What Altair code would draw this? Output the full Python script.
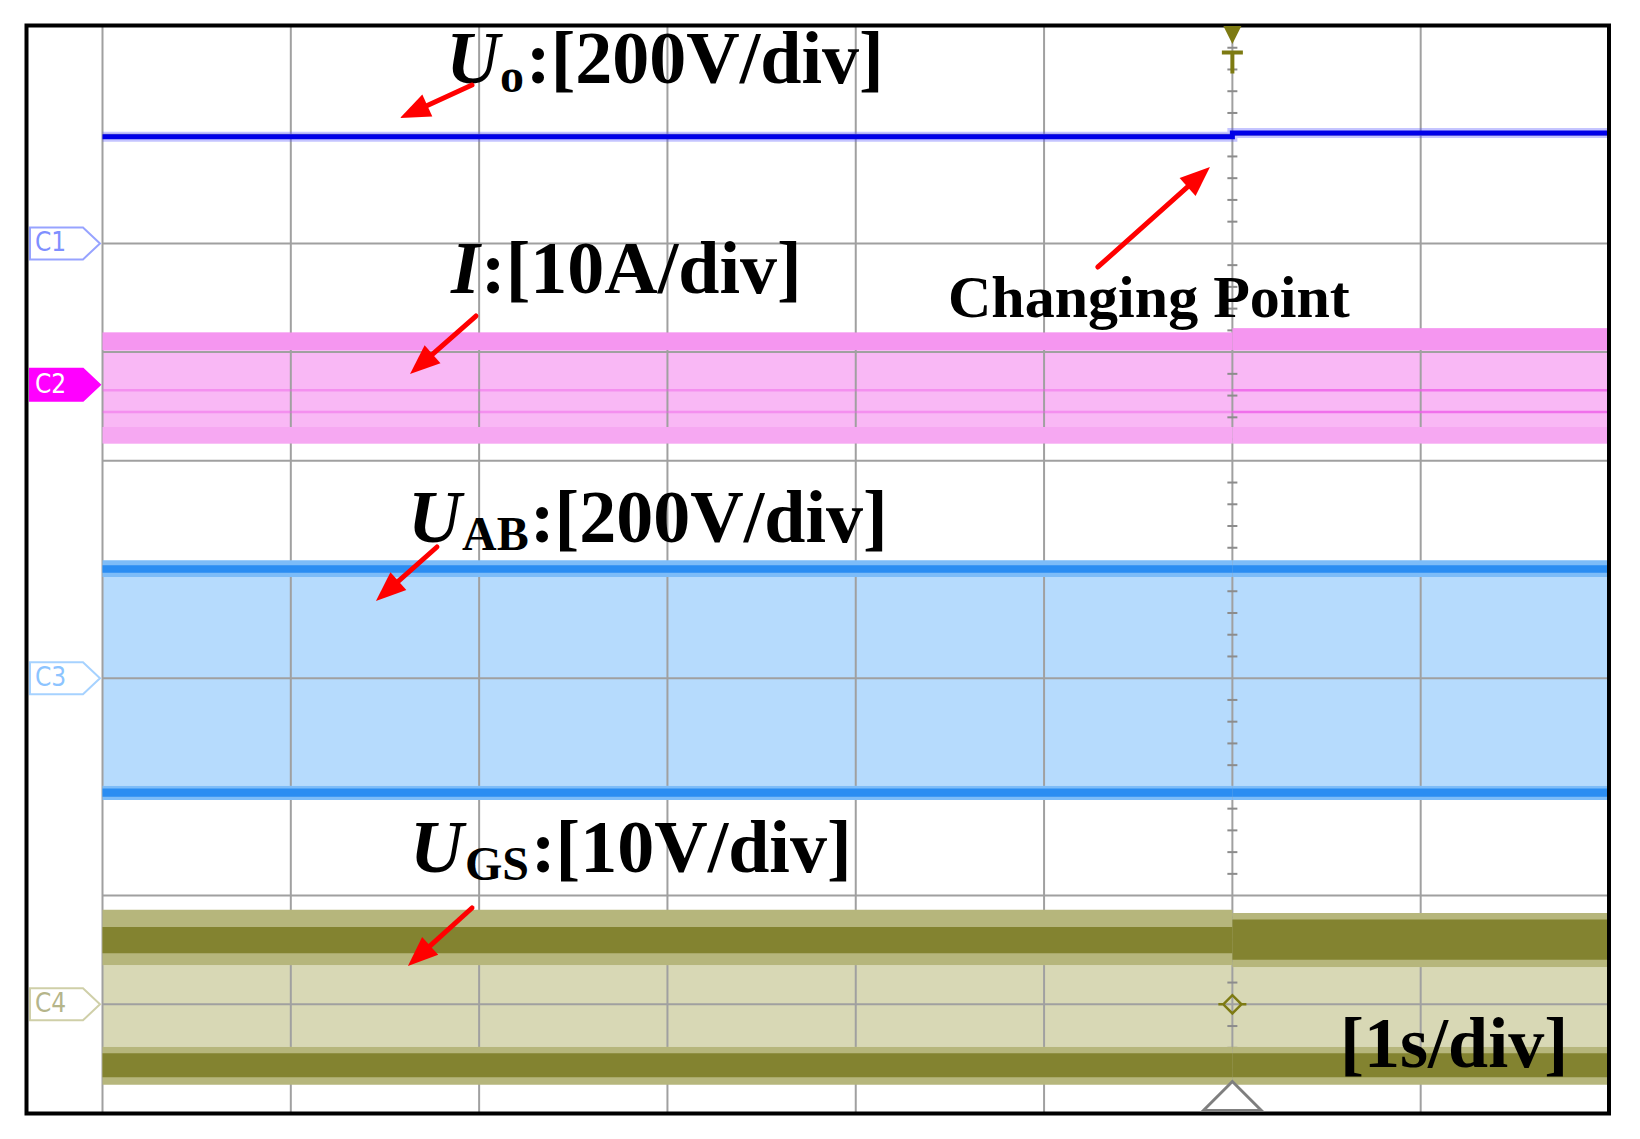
import math
import altair as alt
import pandas as pd

# ---------------- oscillogram readings ----------------
# horizontal: 1 s/div, 8 divisions; vertical: 10 divisions
x_grid = [0, 1, 2, 3, 4, 5, 6, 7, 8]
y_grid = [-5, -4, -3, -2, -1, 0, 1, 2, 3, 4, 5]
t_change = 6.0                       # changing point (s)
seg_t0 = [0.0, 6.0]                  # before / after the change
seg_t1 = [6.0, 8.0]

ch_names = ["C1", "C2", "C3", "C4"]
ch_ref = [3.0, 1.7, -1.0, -4.0]      # channel reference level (div)
ch_scale = [200.0, 10.0, 200.0, 10.0]  # 200 V/div, 10 A/div, 200 V/div, 10 V/div

# Uo (V), before / after
uo_level = [196.0, 203.0]

# I (A) envelope, before / after
i_top = [4.8, 5.2]
i_edge_top = [3.2, 3.2]
i_edge_bot = [-3.9, -3.9]
i_bot = [-5.4, -5.4]
i_lines = [-0.5, -2.5]

# UAB (V) envelope
uab_halo_hi = [217.0, 217.0]
uab_core_hi = [208.0, 208.0]
uab_core_lo = [194.0, 194.0]
uab_halo_lo = [186.0, 186.0]
uab_nhalo_hi = [-198.0, -198.0]
uab_ncore_hi = [-203.0, -203.0]
uab_ncore_lo = [-218.0, -218.0]
uab_nhalo_lo = [-224.0, -224.0]

# UGS (V) envelope
ugs_halo_hi = [8.7, 8.4]
ugs_core_hi = [7.1, 7.8]
ugs_core_lo = [4.7, 4.1]
ugs_halo_lo = [3.6, 3.4]
ugs_nhalo_hi = [-3.9, -3.9]
ugs_ncore_hi = [-4.5, -4.5]
ugs_ncore_lo = [-6.7, -6.7]
ugs_nhalo_lo = [-7.4, -7.4]

# ---------------- annotations (time s, div) ----------------
labels = [
    # text, x, y, size, italic
    ("U", 1.825, 4.476, 74, True),
    ("o", 2.111, 4.393, 48, False),
    (":[200V/div]", 2.249, 4.476, 74, False),
    ("I", 1.851, 2.544, 74, True),
    (":[10A/div]", 2.010, 2.544, 74, False),
    ("U", 1.622, 0.253, 74, True),
    ("AB", 1.909, 0.179, 48, False),
    (":[200V/div]", 2.270, 0.253, 74, False),
    ("U", 1.633, -2.783, 74, True),
    ("GS", 1.925, -2.856, 48, False),
    (":[10V/div]", 2.275, -2.783, 74, False),
    ("Changing Point", 4.490, 2.323, 60, False),
    ("[1s/div]", 6.572, -4.577, 72, False),
]
arrows = [  # tail x, tail y, tip x, tip y
    (1.962, 4.457, 1.580, 4.154),
    (1.983, 2.332, 1.633, 1.799),
    (1.776, 0.207, 1.452, -0.290),
    (1.962, -3.114, 1.622, -3.648),
    (5.286, 2.783, 5.881, 3.703),
]

# ---------------- geometry ----------------
W, H = 1506.5, 1087
PX = W / 8.0
PY = H / 10.0
X = alt.Scale(domain=[0, 8], nice=False, zero=False)
Y = alt.Scale(domain=[-5, 5], nice=False, zero=False)


def xq(f):
    return alt.X(f, type="quantitative", scale=X, axis=None)


def yq(f):
    return alt.Y(f, type="quantitative", scale=Y, axis=None)


def band(kind, ch, lo, hi):
    k = ch_names.index(ch)
    return [dict(kind=kind, t0=seg_t0[s], t1=seg_t1[s],
                 y0=ch_ref[k] + lo[s] / ch_scale[k],
                 y1=ch_ref[k] + hi[s] / ch_scale[k]) for s in range(2)]


kinds = ["i_fill", "i_edge", "i_edge_b", "uab_fill", "uab_halo", "uab_core",
         "ugs_fill", "ugs_halo", "ugs_core"]
kcolors = ["#f9b8f5", "#f596f0", "#f6a8f2", "#b6dbfd", "#7dbcf8", "#2b8df2",
           "#d8d8b5", "#b6b67c", "#838330"]
color_k = alt.Color("kind:N", scale=alt.Scale(domain=kinds, range=kcolors), legend=None)

fill_rows = (band("i_fill", "C2", i_bot, i_top)
             + band("uab_fill", "C3", uab_nhalo_hi, uab_halo_lo)
             + band("ugs_fill", "C4", ugs_nhalo_hi, ugs_halo_lo))
edge_rows = (band("i_edge", "C2", i_edge_top, i_top)
             + band("i_edge_b", "C2", i_bot, i_edge_bot)
             + band("uab_halo", "C3", uab_halo_lo, uab_halo_hi)
             + band("uab_halo", "C3", uab_nhalo_lo, uab_nhalo_hi)
             + band("uab_core", "C3", uab_core_lo, uab_core_hi)
             + band("uab_core", "C3", uab_ncore_lo, uab_ncore_hi)
             + band("ugs_halo", "C4", ugs_halo_lo, ugs_halo_hi)
             + band("ugs_halo", "C4", ugs_nhalo_lo, ugs_nhalo_hi)
             + band("ugs_core", "C4", ugs_core_lo, ugs_core_hi)
             + band("ugs_core", "C4", ugs_ncore_lo, ugs_ncore_hi))

fills = alt.Chart(pd.DataFrame(fill_rows)).mark_rect().encode(
    x=xq("t0"), x2=alt.X2("t1"), y=yq("y0"), y2=alt.Y2("y1"), color=color_k)
edges = alt.Chart(pd.DataFrame(edge_rows)).mark_rect().encode(
    x=xq("t0"), x2=alt.X2("t1"), y=yq("y0"), y2=alt.Y2("y1"), color=color_k)

grid_col = "#a0a0a0"
vgrid = alt.Chart(pd.DataFrame({"t": x_grid})).mark_rule(
    color=grid_col, strokeWidth=2).encode(x=xq("t"))
hgrid = alt.Chart(pd.DataFrame({"v": y_grid})).mark_rule(
    color=grid_col, strokeWidth=2).encode(y=yq("v"))

minor = [k / 5.0 for k in range(-24, 25) if k % 5 != 0]
ticks = alt.Chart(pd.DataFrame({"t": [t_change] * len(minor), "v": minor})).mark_rule(
    color="#8c8c8c", strokeWidth=2, xOffset=-5, x2Offset=5).encode(
    x=xq("t"), x2=alt.X2("t"), y=yq("v"))

# I ripple lines
il = []
for v in i_lines:
    for s in range(2):
        il.append(dict(t0=seg_t0[s], t1=seg_t1[s], y=ch_ref[1] + v / ch_scale[1],
                       op=0.45 if s == 0 else 0.8))
i_ripple = alt.Chart(pd.DataFrame(il)).mark_rule(color="#ee5ee8", strokeWidth=2.5).encode(
    x=xq("t0"), x2=alt.X2("t1"), y=yq("y"), opacity=alt.Opacity("op:Q", scale=None))

# Uo
uo_df = pd.DataFrame({"t": [seg_t0[0], seg_t0[1], seg_t1[1]],
                      "u": [uo_level[0], uo_level[1], uo_level[1]]})
uo_df["y"] = ch_ref[0] + uo_df["u"] / ch_scale[0]
uo_halo = alt.Chart(uo_df).mark_line(interpolate="step-after", color="#5a5aff",
                                     strokeWidth=10, opacity=0.35).encode(x=xq("t"), y=yq("y"))
uo = alt.Chart(uo_df).mark_line(interpolate="step-after", color="#0000e8",
                                strokeWidth=5).encode(x=xq("t"), y=yq("y"))

# outer frame
one = pd.DataFrame({"a": [0]})
frame = alt.Chart(one).mark_rect(fillOpacity=0, stroke="black", strokeWidth=4).encode(
    x=alt.value(-76), x2=alt.value(W), y=alt.value(-0.5), y2=alt.value(H + 0.5))

# channel markers
PENT = "M -1 -0.457 L 0.514 -0.457 L 1 0 L 0.514 0.457 L -1 0.457 Z"
ch_df = pd.DataFrame({
    "ch": ch_names, "ref": ch_ref,
    "stroke": ["#97a3ff", "#ff00ff", "#a6d2ff", "#cfcfa8"],
    "fill": ["white", "#ff00ff", "white", "white"],
    "txt": ["#7f8fff", "white", "#8cc4ff", "#b5b58a"],
})
ch_mark = alt.Chart(ch_df).mark_point(shape=PENT, size=4900, filled=True, strokeWidth=2,
                                      opacity=1).encode(
    x=alt.value(-37.5), y=yq("ref"),
    fill=alt.Fill("fill:N", scale=None), stroke=alt.Stroke("stroke:N", scale=None))
ch_text = alt.Chart(ch_df).mark_text(font="DejaVu Sans Condensed", fontSize=26,
                                     align="center", baseline="middle").encode(
    x=alt.value(-52), y=yq("ref"), text="ch:N", color=alt.Color("txt:N", scale=None))

# trigger markers
olive = "#7d7a12"
trig_df = pd.DataFrame({"t": [t_change]})
trig_tri = alt.Chart(trig_df).mark_point(shape="M -1 -1 L 1 -1 L 0 1 Z", size=324,
                                         filled=True, color=olive, opacity=1).encode(
    x=xq("t"), y=alt.value(9))
trig_T = alt.Chart(trig_df).mark_point(shape="M -1 -1 L 1 -1 M 0 -1 L 0 1", size=441,
                                       filled=False, color=olive, strokeWidth=4,
                                       opacity=1).encode(x=xq("t"), y=alt.value(37))
diam_df = pd.DataFrame({"t": [t_change], "v": [ch_ref[3]]})
diamond = alt.Chart(diam_df).mark_point(
    shape="M -0.65 0 L 0 -0.65 L 0.65 0 L 0 0.65 Z M -1 0 L -0.65 0 M 0.65 0 L 1 0",
    size=784, filled=False, color=olive, strokeWidth=2.5, opacity=1).encode(
    x=xq("t"), y=yq("v"))
bot_tri = alt.Chart(trig_df).mark_point(shape="M -1 0.5 L 0 -0.5 L 1 0.5 Z", size=3364,
                                        filled=True, fill="white", stroke="#7f7f7f",
                                        strokeWidth=3, opacity=1).encode(
    x=xq("t"), y=alt.value(H - 17))

# texts
lab_df = pd.DataFrame(labels, columns=["text", "x", "y", "size", "italic"])
text_layers = []
for it in [True, False]:
    d = lab_df[lab_df["italic"] == it]
    text_layers.append(alt.Chart(d).mark_text(
        font="Liberation Serif", fontWeight="bold",
        fontStyle="italic" if it else "normal",
        align="left", baseline="alphabetic", color="black").encode(
        x=xq("x"), y=yq("y"), text="text:N", size=alt.Size("size:Q", scale=None)))

# arrows
HEAD = 30.0
ar = []
for (tx, ty, hx, hy) in arrows:
    sx = (hx - tx) * PX
    sy = -(hy - ty) * PY
    L = math.hypot(sx, sy)
    ux, uy = sx / L, sy / L
    cx = hx - (HEAD / 2) * ux / PX
    cy = hy + (HEAD / 2) * uy / PY
    ang = math.degrees(math.atan2(sx, -sy)) % 360
    ar.append(dict(tx=tx, ty=ty, cx=cx, cy=cy, ang=ang))
ar_df = pd.DataFrame(ar)
shaft = alt.Chart(ar_df).mark_rule(color="#ff0000", strokeWidth=5, strokeCap="round").encode(
    x=xq("tx"), y=yq("ty"), x2=alt.X2("cx"), y2=alt.Y2("cy"))
head = alt.Chart(ar_df).mark_point(shape="M 0 -1 L 0.8 1 L -0.8 1 Z", size=HEAD * HEAD,
                                   filled=True, color="#ff0000", opacity=1).encode(
    x=xq("cx"), y=yq("cy"), angle=alt.Angle("ang:Q", scale=None))

chart = alt.layer(
    fills, vgrid, hgrid, ticks, edges, i_ripple, uo_halo, uo, frame,
    ch_mark, ch_text, trig_tri, trig_T, diamond, bot_tri,
    *text_layers, shaft, head,
).properties(
    width=W, height=H,
    padding={"left": 94.5, "top": 18, "right": 12, "bottom": 14},
    autosize=alt.AutoSizeParams(type="none"),
    background="white",
).configure_view(stroke="transparent")

chart.save("out.html", embed_options={"renderer": "svg", "actions": False})
